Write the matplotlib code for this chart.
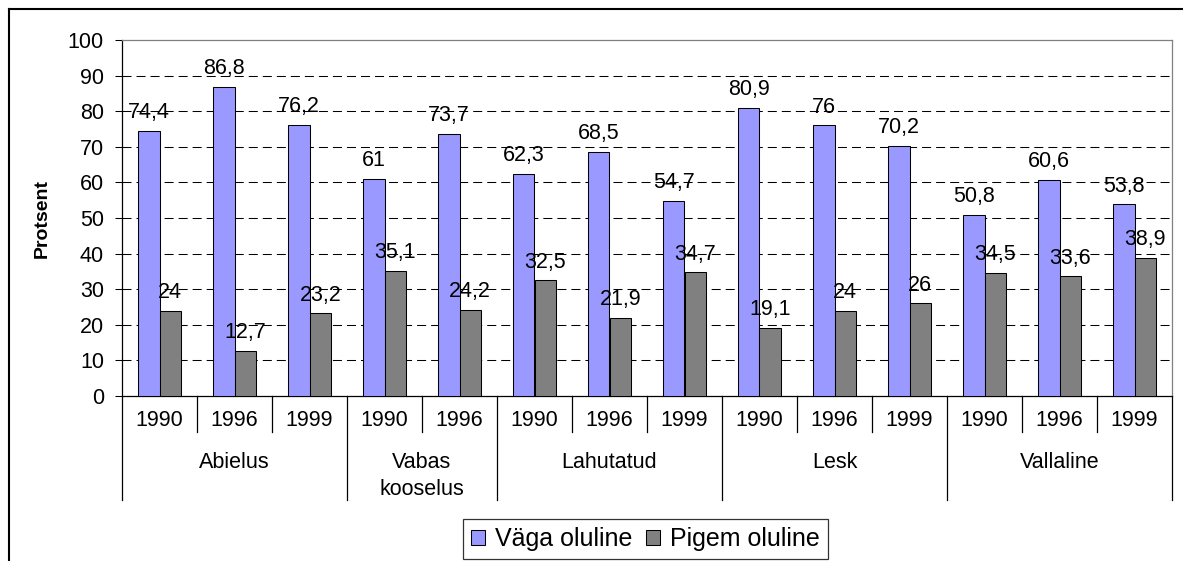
import matplotlib
matplotlib.use("Agg")
import matplotlib.pyplot as plt
from matplotlib.patches import Patch
from matplotlib.lines import Line2D
import matplotlib.transforms as mtransforms

plt.rcParams['font.family'] = ['Liberation Sans', 'DejaVu Sans']
plt.rcParams['lines.scale_dashes'] = False

# ---- data ----
groups = ['Abielus', 'Vabas\nkooselus', 'Lahutatud', 'Lesk', 'Vallaline']
group_years = [['1990', '1996', '1999'],
               ['1990', '1996'],
               ['1990', '1996', '1999'],
               ['1990', '1996', '1999'],
               ['1990', '1996', '1999']]
vaga_oluline = [74.4, 86.8, 76.2, 61, 73.7, 62.3, 68.5, 54.7, 80.9, 76, 70.2, 50.8, 60.6, 53.8]
pigem_oluline = [24, 12.7, 23.2, 35.1, 24.2, 32.5, 21.9, 34.7, 19.1, 24, 26, 34.5, 33.6, 38.9]
series_names = ['Väga oluline', 'Pigem oluline']
yticks = [0, 10, 20, 30, 40, 50, 60, 70, 80, 90, 100]

blue = '#9999FF'
gray = '#808080'

W, H = 1183, 561
fig = plt.figure(figsize=(W / 100, H / 100), dpi=100)

# axes in pixel geometry
ax_left, ax_right, ax_top, ax_bottom = 122, 1172, 40, 396
ax = fig.add_axes([ax_left / W, (H - ax_bottom) / H,
                   (ax_right - ax_left) / W, (ax_bottom - ax_top) / H])

def fy(ypix):
    """pixel row (from top) -> axes fraction"""
    return (ax_bottom - ypix) / (ax_bottom - ax_top)

years = [y for g in group_years for y in g]
n = len(years)
x = list(range(n))
bw = 0.287
off = 0.1435

bars1 = ax.bar([i - off for i in x], vaga_oluline, bw, color=blue,
               edgecolor='black', linewidth=0.75, zorder=3)
bars2 = ax.bar([i + off for i in x], pigem_oluline, bw, color=gray,
               edgecolor='black', linewidth=0.75, zorder=3)

ax.set_xlim(-0.5, n - 0.5)
ax.set_ylim(0, 100)
ax.set_yticks(yticks)
ax.set_yticklabels([str(t) for t in yticks], fontsize=15.5)
ax.tick_params(axis='y', direction='out', length=5, width=0.75, pad=8, colors='black')
ax.set_xticks([])

# gridlines (dashed) at all but the top
for t in yticks[1:-1]:
    ax.axhline(t, color='black', linewidth=0.75, linestyle=(0, (6.5, 3.6)), zorder=1)

for s in ['top', 'right']:
    ax.spines[s].set_color(gray)
    ax.spines[s].set_linewidth(0.9)
for s in ['left', 'bottom']:
    ax.spines[s].set_color('black')
    ax.spines[s].set_linewidth(0.9)

# value labels
def fmt(v):
    return f"{v:g}".replace('.', ',')

for i in x:
    ax.annotate(fmt(vaga_oluline[i]), (i - off, vaga_oluline[i]), xytext=(0, 9.2),
                textcoords='offset points', ha='center', va='baseline', fontsize=15.5,
                zorder=5)
    ax.annotate(fmt(pigem_oluline[i]), (i + off, pigem_oluline[i]), xytext=(0, 9.2),
                textcoords='offset points', ha='center', va='baseline', fontsize=15.5,
                zorder=5)

# multi-level category axis
trans = mtransforms.blended_transform_factory(ax.transData, ax.transAxes)
year_sep_bottom = fy(432)
group_sep_bottom = fy(500)

group_bounds = [-0.5]
pos = -0.5
for g in group_years:
    pos += len(g)
    group_bounds.append(pos)

for b in [i + 0.5 for i in range(-1, n)]:
    is_group = any(abs(b - gb) < 1e-9 for gb in group_bounds)
    yb = group_sep_bottom if is_group else year_sep_bottom
    ax.add_line(Line2D([b, b], [0, yb], transform=trans, color='black',
                       linewidth=0.9, clip_on=False))

for i, yr in enumerate(years):
    ax.text(i, fy(426.5), yr, transform=trans, ha='center', va='baseline',
            fontsize=15.5)

start = 0
for g, yrs in zip(groups, group_years):
    center = start + (len(yrs) - 1) / 2
    for k, line in enumerate(g.split('\n')):
        ax.text(center, fy(468 + 27 * k), line, transform=trans, ha='center',
                va='baseline', fontsize=15.5)
    start += len(yrs)

# y label
fig.text(42 / W, 1 - 218 / H, 'Protsent', rotation=90, ha='center', va='center',
         fontsize=14, fontweight='bold')

# legend
handles = [Patch(facecolor=blue, edgecolor='black', linewidth=0.75),
           Patch(facecolor=gray, edgecolor='black', linewidth=0.75)]
leg = fig.legend(handles, series_names, loc='center', ncol=2,
                 bbox_to_anchor=(645.5 / W, 1 - 539 / H), fontsize=18,
                 frameon=True, fancybox=False, shadow=False,
                 handlelength=0.56, handleheight=0.56, handletextpad=0.4,
                 columnspacing=0.52, borderpad=0.32, borderaxespad=0)
leg.get_frame().set_edgecolor('black')
leg.get_frame().set_linewidth(0.9)

# outer chart frame (clipped at right and bottom)
fig.add_artist(Line2D([9 / W, 1.0], [1 - 9 / H, 1 - 9 / H], transform=fig.transFigure,
                      color='black', linewidth=1.5))
fig.add_artist(Line2D([9 / W, 9 / W], [1 - 9 / H, 0], transform=fig.transFigure,
                      color='black', linewidth=1.5))

fig.savefig('out.png', dpi=100)
